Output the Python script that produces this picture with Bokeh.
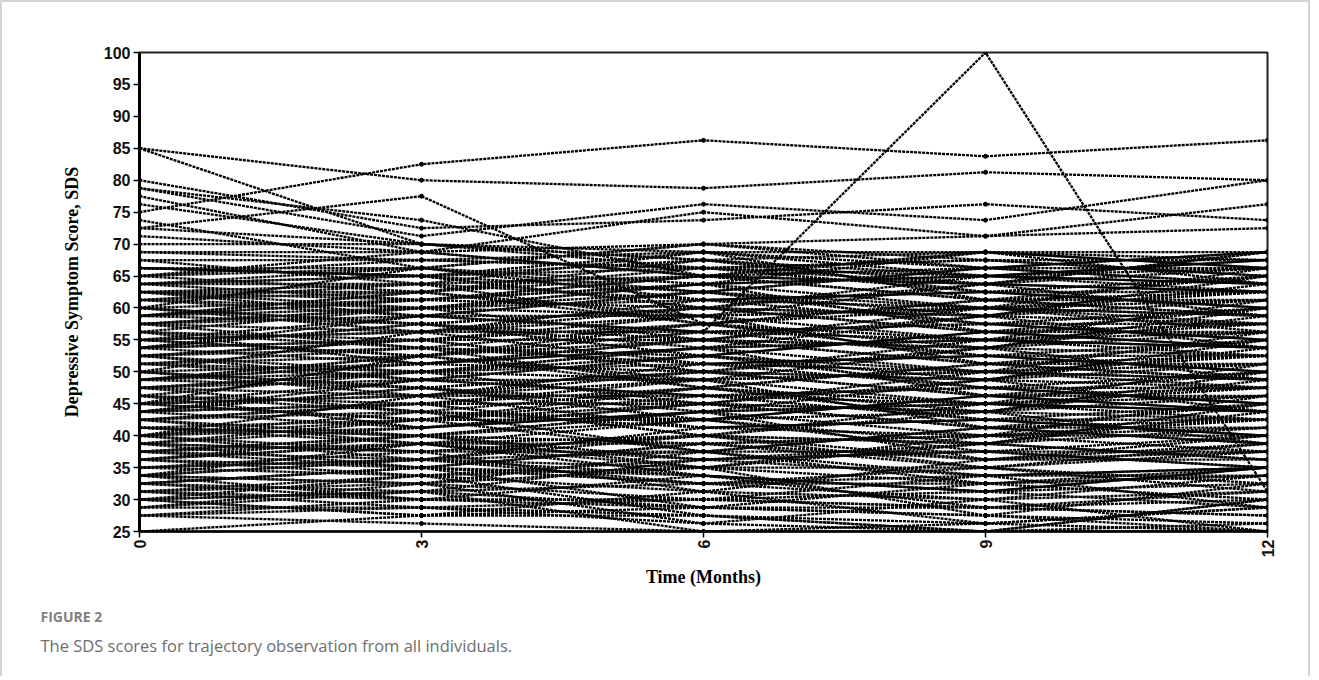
import math
from bokeh.plotting import figure
from bokeh.models import ColumnDataSource, FixedTicker, Range1d, Title
from bokeh.embed import file_html
from bokeh.resources import INLINE

# Assessment times (months)
months = [0, 3, 6, 9, 12]
y_ticks = [25, 30, 35, 40, 45, 50, 55, 60, 65, 70, 75, 80, 85, 90, 95, 100]

# SDS score of every individual at each assessment (same index = same person)
month_0 = [
    27.5, 30, 28.75, 27.5, 31.25, 28.75, 30, 31.25, 30, 28.75,
    31.25, 33.75, 32.5, 30, 33.75, 32.5, 31.25, 33.75, 30, 32.5,
    35, 33.75, 32.5, 36.25, 35, 33.75, 35, 32.5, 36.25, 33.75,
    36.25, 38.75, 37.5, 35, 38.75, 36.25, 37.5, 36.25, 38.75, 37.5,
    40, 38.75, 41.25, 37.5, 40, 38.75, 40, 41.25, 37.5, 40,
    42.5, 41.25, 43.75, 40, 42.5, 43.75, 41.25, 42.5, 40, 43.75,
    45, 43.75, 42.5, 46.25, 45, 43.75, 46.25, 42.5, 45, 43.75,
    47.5, 46.25, 48.75, 45, 47.5, 48.75, 46.25, 47.5, 45, 48.75,
    50, 48.75, 51.25, 47.5, 50, 48.75, 51.25, 50, 47.5, 48.75,
    52.5, 51.25, 53.75, 50, 52.5, 53.75, 51.25, 52.5, 50, 53.75,
    55, 53.75, 52.5, 56.25, 55, 53.75, 56.25, 52.5, 55, 53.75,
    57.5, 56.25, 58.75, 55, 57.5, 58.75, 56.25, 57.5, 55, 58.75,
    60, 58.75, 61.25, 57.5, 60, 58.75, 61.25, 60, 57.5, 58.75,
    62.5, 61.25, 63.75, 60, 62.5, 63.75, 61.25, 62.5, 60, 63.75,
    65, 63.75, 66.25, 62.5, 65, 63.75, 66.25, 65, 62.5, 66.25,
    67.5, 66.25, 68.75, 65, 70, 67.5, 71.25, 68.75, 66.25, 72.5,
    # individuals visible above / below the dense band
    75, 85, 85, 72.5, 80, 78.75, 77.5, 73.75, 45, 78.75, 76.25, 25, 27.5,
]
month_3 = [
    28.75, 27.5, 31.25, 30, 28.75, 32.5, 27.5, 30, 33.75, 28.75,
    32.5, 30, 35, 31.25, 32.5, 30, 33.75, 36.25, 31.25, 35,
    33.75, 36.25, 31.25, 35, 37.5, 32.5, 36.25, 35, 33.75, 38.75,
    38.75, 35, 40, 36.25, 37.5, 38.75, 35, 40, 37.5, 36.25,
    37.5, 42.5, 40, 38.75, 36.25, 41.25, 43.75, 38.75, 40, 42.5,
    43.75, 40, 45, 41.25, 38.75, 45, 42.5, 40, 46.25, 41.25,
    42.5, 47.5, 45, 41.25, 46.25, 48.75, 43.75, 45, 42.5, 47.5,
    48.75, 45, 50, 46.25, 43.75, 47.5, 50, 46.25, 48.75, 51.25,
    47.5, 52.5, 48.75, 50, 46.25, 51.25, 53.75, 47.5, 50, 52.5,
    53.75, 50, 55, 51.25, 48.75, 55, 52.5, 50, 56.25, 51.25,
    52.5, 57.5, 55, 51.25, 56.25, 58.75, 53.75, 55, 52.5, 57.5,
    58.75, 55, 60, 56.25, 53.75, 57.5, 60, 56.25, 58.75, 61.25,
    57.5, 62.5, 58.75, 60, 56.25, 61.25, 63.75, 57.5, 60, 62.5,
    63.75, 60, 65, 61.25, 58.75, 65, 62.5, 60, 66.25, 61.25,
    62.5, 66.25, 65, 61.25, 67.5, 63.75, 65, 68.75, 62.5, 66.25,
    67.5, 65, 68.75, 66.25, 70, 63.75, 68.75, 67.5, 65, 70,
    82.5, 80, 70, 77.5, 72.5, 71.25, 68.75, 66.25, 52.5, 73.75, 70, 27.5, 26.25,
]
month_6 = [
    26.25, 28.75, 25, 30, 27.5, 26.25, 31.25, 28.75, 27.5, 30,
    30, 33.75, 28.75, 32.5, 35, 30, 31.25, 33.75, 28.75, 32.5,
    35, 32.5, 36.25, 33.75, 31.25, 37.5, 35, 32.5, 36.25, 33.75,
    36.25, 38.75, 35, 40, 37.5, 35, 38.75, 36.25, 40, 37.5,
    40, 37.5, 42.5, 38.75, 41.25, 43.75, 37.5, 40, 38.75, 42.5,
    41.25, 43.75, 40, 45, 42.5, 40, 46.25, 43.75, 41.25, 45,
    45, 42.5, 47.5, 43.75, 46.25, 48.75, 42.5, 45, 47.5, 43.75,
    46.25, 48.75, 45, 50, 47.5, 45, 51.25, 48.75, 46.25, 50,
    50, 47.5, 52.5, 48.75, 51.25, 53.75, 47.5, 50, 52.5, 48.75,
    51.25, 53.75, 50, 55, 52.5, 50, 56.25, 53.75, 51.25, 55,
    55, 52.5, 57.5, 53.75, 56.25, 58.75, 52.5, 55, 57.5, 53.75,
    56.25, 58.75, 55, 60, 57.5, 55, 61.25, 58.75, 56.25, 60,
    60, 57.5, 62.5, 58.75, 61.25, 63.75, 57.5, 60, 62.5, 58.75,
    61.25, 63.75, 60, 65, 62.5, 60, 66.25, 63.75, 61.25, 65,
    65, 62.5, 67.5, 63.75, 66.25, 68.75, 62.5, 65, 67.5, 63.75,
    66.25, 68.75, 65, 70, 67.5, 65, 70, 68.75, 66.25, 67.5,
    86.25, 78.75, 66.25, 57.5, 73.75, 76.25, 75, 70, 56.25, 65, 68.75, 27.5, 25,
]
month_9 = [
    25, 27.5, 26.25, 28.75, 25, 30, 26.25, 27.5, 25, 28.75,
    31.25, 28.75, 32.5, 30, 27.5, 33.75, 30, 31.25, 28.75, 32.5,
    32.5, 35, 33.75, 31.25, 36.25, 32.5, 35, 33.75, 37.5, 31.25,
    37.5, 35, 38.75, 36.25, 33.75, 40, 36.25, 38.75, 35, 37.5,
    38.75, 41.25, 37.5, 40, 42.5, 36.25, 41.25, 38.75, 40, 43.75,
    42.5, 40, 45, 41.25, 38.75, 43.75, 42.5, 45, 40, 41.25,
    43.75, 46.25, 42.5, 45, 47.5, 41.25, 46.25, 43.75, 45, 48.75,
    47.5, 45, 50, 46.25, 43.75, 48.75, 47.5, 50, 45, 46.25,
    48.75, 51.25, 47.5, 50, 52.5, 46.25, 51.25, 48.75, 50, 53.75,
    52.5, 50, 55, 51.25, 48.75, 53.75, 52.5, 55, 50, 51.25,
    53.75, 56.25, 52.5, 55, 57.5, 51.25, 56.25, 53.75, 55, 58.75,
    57.5, 55, 60, 56.25, 53.75, 58.75, 57.5, 60, 55, 56.25,
    58.75, 61.25, 57.5, 60, 62.5, 56.25, 61.25, 58.75, 60, 63.75,
    62.5, 60, 65, 61.25, 58.75, 63.75, 62.5, 65, 60, 61.25,
    63.75, 66.25, 62.5, 65, 67.5, 61.25, 66.25, 63.75, 65, 68.75,
    67.5, 65, 68.75, 66.25, 63.75, 68.75, 67.5, 66.25, 65, 68.75,
    83.75, 81.25, 63.75, 60, 76.25, 73.75, 71.25, 71.25, 100, 66.25, 68.75, 26.25, 25,
]
month_12 = [
    26.25, 25, 28.75, 27.5, 30, 25, 28.75, 26.25, 30, 27.5,
    28.75, 31.25, 30, 33.75, 32.5, 28.75, 31.25, 35, 30, 33.75,
    33.75, 31.25, 35, 32.5, 36.25, 35, 32.5, 33.75, 37.5, 35,
    35, 37.5, 36.25, 38.75, 35, 40, 37.5, 36.25, 38.75, 35,
    41.25, 38.75, 40, 37.5, 42.5, 40, 38.75, 43.75, 41.25, 38.75,
    40, 42.5, 43.75, 41.25, 45, 42.5, 40, 43.75, 46.25, 42.5,
    46.25, 43.75, 45, 42.5, 47.5, 45, 43.75, 48.75, 46.25, 43.75,
    45, 47.5, 48.75, 46.25, 50, 47.5, 45, 48.75, 51.25, 47.5,
    51.25, 48.75, 50, 47.5, 52.5, 50, 48.75, 53.75, 51.25, 48.75,
    50, 52.5, 53.75, 51.25, 55, 52.5, 50, 53.75, 56.25, 52.5,
    56.25, 53.75, 55, 52.5, 57.5, 55, 53.75, 58.75, 56.25, 53.75,
    55, 57.5, 58.75, 56.25, 60, 57.5, 55, 58.75, 61.25, 57.5,
    61.25, 58.75, 60, 57.5, 62.5, 60, 58.75, 63.75, 61.25, 58.75,
    60, 62.5, 63.75, 61.25, 65, 62.5, 60, 63.75, 66.25, 62.5,
    66.25, 63.75, 65, 62.5, 67.5, 65, 63.75, 68.75, 66.25, 63.75,
    65, 67.5, 68.75, 66.25, 68.75, 67.5, 65, 68.75, 67.5, 66.25,
    86.25, 80, 62.5, 56.25, 73.75, 80, 76.25, 72.5, 31.25, 68.75, 66.25, 25, 25,
]

ys = [list(r) for r in zip(month_0, month_3, month_6, month_9, month_12)]
xs = [list(months) for _ in ys]
src = ColumnDataSource(dict(xs=xs, ys=ys))
pts = ColumnDataSource(dict(
    x=[m for _ in ys for m in months],
    y=[v for r in ys for v in r],
))

p = figure(
    width=1310, height=676,
    x_range=Range1d(0, 12), y_range=Range1d(25, 100),
    output_backend="svg", toolbar_location=None,
    min_border_left=137, min_border_right=45,
    min_border_top=50, min_border_bottom=147,
    background_fill_color="white", border_fill_color="white",
    styles={"border-left": "2px solid #d4d4d4", "border-top": "2px solid #d4d4d4",
            "border-right": "2px solid #d4d4d4"},
)

p.multi_line("xs", "ys", source=src, line_color="black", line_width=2.3,
             line_dash="3 1")
p.scatter("x", "y", source=pts, size=4, color="black")

p.xgrid.visible = False
p.ygrid.visible = False
p.outline_line_color = "#222222"
p.outline_line_width = 2

p.xaxis.ticker = FixedTicker(ticks=months)
p.yaxis.ticker = FixedTicker(ticks=y_ticks)
p.xaxis.major_label_orientation = math.pi / 2
for ax in (p.xaxis, p.yaxis):
    ax.minor_tick_line_color = None
    ax.major_tick_out = 6
    ax.major_tick_in = 0
    ax.major_tick_line_width = 1.5
    ax.major_tick_line_color = "black"
    ax.axis_line_color = "black"
    ax.major_label_text_font = "Liberation Sans"
    ax.major_label_text_font_size = "16px"
    ax.major_label_text_font_style = "bold"
    ax.major_label_text_color = "#111111"
    ax.axis_label_text_font = "Liberation Serif"
    ax.axis_label_text_font_style = "bold"
    ax.axis_label_text_font_size = "18px"
    ax.axis_label_text_color = "black"
p.xaxis.axis_line_width = 2.5
p.yaxis.axis_line_width = 3
p.xaxis.major_label_standoff = 2
p.yaxis.major_label_standoff = 3
p.xaxis.axis_label = "Time (Months)"
p.yaxis.axis_label = "Depressive Symptom Score, SDS"
p.xaxis.axis_label_standoff = 7
p.yaxis.axis_label_standoff = 19

p.add_layout(Title(text="FIGURE 2", align="left", offset=-99, standoff=28,
                   text_font="Open Sans", text_font_style="bold",
                   text_font_size="14px", text_color="#808080"), "below")
p.add_layout(Title(text="The SDS scores for trajectory observation from all individuals.",
                   align="left", offset=-99, standoff=-15,
                   text_font="Open Sans", text_font_style="normal",
                   text_font_size="16.5px", text_color="#6e6e6e"), "below")

open("out.html", "w").write(file_html(p, INLINE))
